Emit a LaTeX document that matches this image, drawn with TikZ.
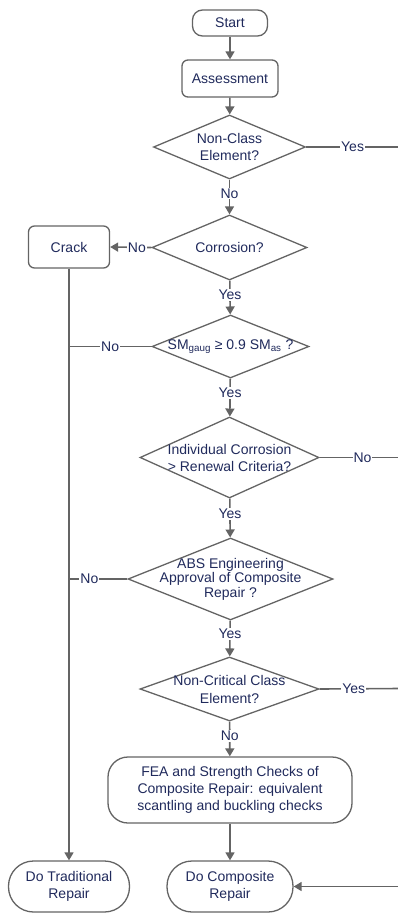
\documentclass[tikz,border=0pt]{standalone}
\usepackage{fontspec}
\setmainfont{Liberation Sans}
\usetikzlibrary{shapes.geometric,arrows.meta}
\definecolor{ink}{RGB}{32,42,92}
\definecolor{wire}{RGB}{100,100,100}
\begin{document}
\begin{tikzpicture}[x=1pt,y=-1pt,
  font=\fontsize{14}{17}\selectfont, text=ink,
  box/.style={draw=wire, line width=1.3pt, fill=white, rectangle, inner sep=0pt, align=center},
  proc/.style={box, rounded corners=#1},
  dia/.style={draw=wire, line width=1.3pt, diamond, inner sep=0pt},
  flow/.style={draw=wire, line width=1.6pt},
  arr/.style={flow, -{Triangle[length=8pt,width=9pt]}},
  tag/.style={fill=white, inner sep=1pt, text=ink}]
\useasboundingbox (0,0) rectangle (398,913);

% process boxes
\node[proc=10pt, minimum width=75pt, minimum height=26pt] (start) at (230,23) {Start};
\node[proc=6pt, minimum width=96pt, minimum height=37pt] (assess) at (230,78.5) {Assessment};
\node[proc=6pt, minimum width=81pt, minimum height=42pt] (crack) at (69,247) {Crack};
\node[proc=20pt, minimum width=244pt, minimum height=66pt] (fea) at (230,790)
  {FEA and Strength Checks of\\Composite Repair: equivalent\\scantling and buckling checks};
\node[proc=25pt, minimum width=121pt, minimum height=51pt] (trad) at (69,886.5) {Do Traditional\\Repair};
\node[proc=25pt, minimum width=126pt, minimum height=51pt] (comp) at (230,886.5) {Do Composite\\Repair};

% decisions
\node[dia, minimum width=152pt, minimum height=64pt,
  label={[align=center]center:Non-Class\\Element?}] (d1) at (229.5,147) {};
\node[dia, minimum width=155pt, minimum height=65pt,
  label={center:Corrosion?}] (d2) at (229.5,247.5) {};
\node[dia, minimum width=157pt, minimum height=63pt,
  label={center:SM\textsubscript{gaug} ≥ 0.9 SM\textsubscript{as} ?}] (d3) at (230.5,346.5) {};
\node[dia, minimum width=179pt, minimum height=81pt,
  label={[align=center]center:Individual Corrosion\\> Renewal Criteria?}] (d4) at (229.5,457.5) {};
\node[dia, minimum width=205pt, minimum height=82pt,
  label={[align=center, font=\fontsize{14}{14.5}\selectfont]center:ABS Engineering\\Approval of Composite\\Repair ?}] (d5) at (230.5,579) {};
\node[dia, minimum width=179pt, minimum height=64pt,
  label={[align=center, font=\fontsize{14}{18}\selectfont]center:Non-Critical Class\\Element?}] (d6) at (229.5,689) {};

% junctions on the left trunk and exits to the right
\coordinate (j3) at (69,346.5);
\coordinate (j5) at (69,579);
\coordinate (r1) at (399,147);
\coordinate (r4) at (399,457.5);
\coordinate (r6) at (399,688.5);
\coordinate (r7) at (399,886.5);

% connectors
\draw[arr] (start) -- (assess);
\draw[arr] (assess) -- (d1);
\draw[arr] (d1) -- node[tag, pos=0.4] {No} (d2);
\draw[flow] (d1.east) -- node[tag, pos=0.5] {Yes} (r1);
\draw[arr] (d2.west) -- node[tag, pos=0.35] {No} (crack.east);
\draw[arr] (d2) -- node[tag, pos=0.42] {Yes} (d3);
\draw[arr] (crack) -- (trad);
\draw[flow] (d3.west) -- node[tag, pos=0.5] {No} (j3);
\draw[arr] (d3) -- node[tag, pos=0.38] {Yes} (d4);
\draw[flow] (d4.east) -- node[tag, pos=0.54] {No} (r4);
\draw[arr] (d4) -- node[tag, pos=0.4] {Yes} (d5);
\draw[flow] (d5.west) -- node[tag, pos=0.65] {No} (j5);
\draw[arr] (d5) -- node[tag, pos=0.38] {Yes} (d6);
\draw[flow] (d6.east) -- node[tag, pos=0.43] {Yes} (r6);
\draw[arr] (d6) -- node[tag, pos=0.42] {No} (fea);
\draw[arr] (fea) -- (comp);
\draw[arr] (r7) -- (comp.east);
\end{tikzpicture}
\end{document}
